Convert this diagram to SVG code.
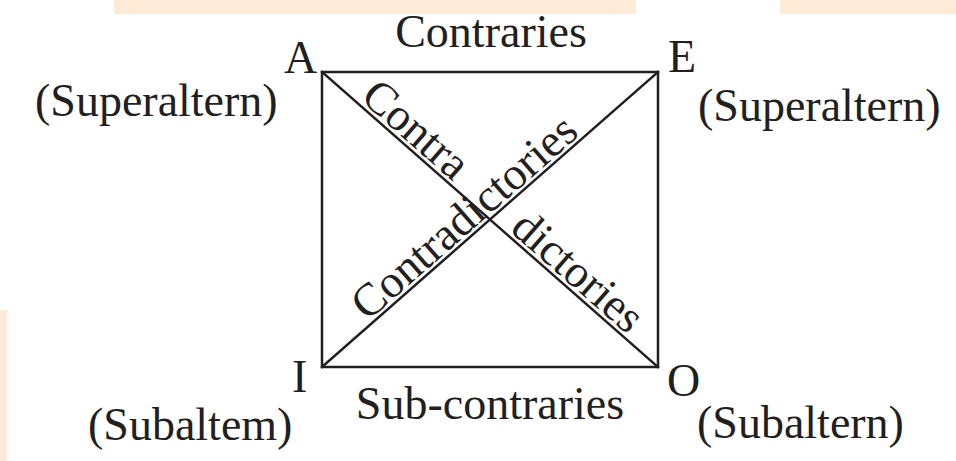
<svg xmlns="http://www.w3.org/2000/svg" width="956" height="461" viewBox="0 0 956 461">
<style>
  .t { font-family: "Liberation Serif", "Times New Roman", serif; font-size: 46px; fill: #231f20; }
  .ln { stroke: #231f20; stroke-width: 2.5; fill: none; stroke-linecap: square; }
</style>
<rect x="0" y="0" width="956" height="461" fill="#ffffff"/>
<g id="background">
  <rect x="114" y="0" width="522" height="14" fill="#fdebd8"/>
  <rect x="780" y="0" width="176" height="14" fill="#fdebd8"/>
  <rect x="0" y="310" width="7" height="151" fill="#fdebd8"/>
</g>
<g id="connectors">
  <rect class="ln" x="322" y="72" width="336" height="295"/>
  <line class="ln" x1="322" y1="72" x2="658" y2="367"/>
  <line class="ln" x1="322" y1="367" x2="658" y2="72"/>
</g>
<g id="node-A">
  <text class="t" x="284" y="73">A</text>
  <text class="t" x="35" y="116">(Superaltern)</text>
</g>
<g id="node-E">
  <text class="t" x="668" y="72">E</text>
  <text class="t" x="698" y="121">(Superaltern)</text>
</g>
<g id="node-I">
  <text class="t" x="292" y="392">I</text>
  <text class="t" x="88" y="440">(Subaltem)</text>
</g>
<g id="node-O">
  <text class="t" x="667" y="396">O</text>
  <text class="t" x="697" y="438">(Subaltern)</text>
</g>
<g id="labels">
  <text class="t" x="491" y="47" text-anchor="middle">Contraries</text>
  <text class="t" x="490" y="419" text-anchor="middle">Sub-contraries</text>
  <g transform="translate(322,72) rotate(41.28)">
    <text class="t" x="46" y="-4">Contra</text>
    <text class="t" x="245" y="-4">dictories</text>
  </g>
  <g transform="translate(322,367) rotate(-41.28)">
    <text class="t" x="64" y="-4">Contradictories</text>
  </g>
</g>
</svg>
